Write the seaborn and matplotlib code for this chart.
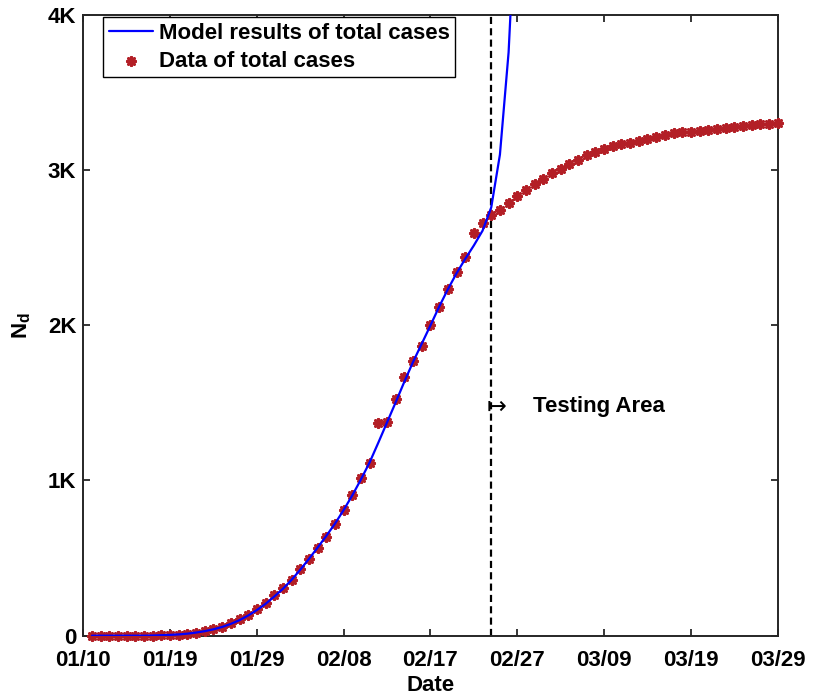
import numpy as np
import pandas as pd
import seaborn as sns
import matplotlib
matplotlib.use("Agg")
import matplotlib.pyplot as plt

# Cumulative deaths (N_d), one value per day starting at day 1
data_total = [0, 1, 1, 1, 1, 1, 1, 1, 2, 3, 6,
              9, 20, 30, 43, 58, 82, 107, 133, 172, 213, 260, 305, 360, 428,
              495, 567, 638, 722, 812, 909, 1016, 1115, 1369, 1379, 1525, 1665,
              1770, 1869, 2004, 2118, 2236, 2343, 2438, 2593, 2661, 2714, 2743,
              2786, 2833, 2869, 2911, 2941, 2980, 3009, 3041, 3067, 3095, 3117,
              3134, 3155, 3168, 3177, 3189, 3198, 3213, 3228, 3237, 3243, 3245,
              3252, 3258, 3267, 3271, 3279, 3286, 3290, 3295, 3299, 3302]
data_days = list(range(1, len(data_total) + 1))

# Model output (fitted up to the start of the testing period, then diverging)
model_total = [0, 0, 0, 0, 0, 0, 0, 1, 3, 5, 8, 13, 20, 29, 41, 56, 76, 100,
               130, 165, 205, 252, 302, 360, 425, 495, 568, 643, 722, 810, 905,
               1008, 1118, 1245, 1375, 1505, 1638, 1765, 1882, 2000, 2120, 2232,
               2335, 2428, 2515, 2610, 2760, 3100, 3760, 4900]
model_days = list(range(1, len(model_total) + 1))

testing_start = 47
tick_days = [0, 10, 20, 30, 40, 50, 60, 70, 80]
tick_labels = ["01/10", "01/19", "01/29", "02/08", "02/17", "02/27",
               "03/09", "03/19", "03/29"]
y_ticks = [0, 1000, 2000, 3000, 4000]
y_labels = ["0", "1K", "2K", "3K", "4K"]

sns.set_theme(style="white")
plt.rcParams["font.family"] = ["Liberation Sans", "DejaVu Sans"]
plt.rcParams["text.color"] = "black"
plt.rcParams["axes.labelcolor"] = "black"
plt.rcParams["xtick.color"] = "black"
plt.rcParams["ytick.color"] = "black"
plt.rcParams["mathtext.fontset"] = "custom"
plt.rcParams["mathtext.rm"] = "Liberation Sans"
plt.rcParams["mathtext.bf"] = "Liberation Sans:bold"
plt.rcParams["mathtext.it"] = "Liberation Sans:italic"

df_data = pd.DataFrame({"day": data_days, "total": data_total})
df_model = pd.DataFrame({"day": model_days, "total": model_total})

fig = plt.figure(figsize=(8.15, 6.97), dpi=100)
ax = fig.add_axes([0.1022, 0.0880, 0.8520, 0.8905])

red = (0.70, 0.12, 0.15)

ax.axvline(testing_start, color="black", lw=1.6, ls=(0, (3.2, 1.9)), zorder=1)

sns.scatterplot(data=df_data, x="day", y="total", ax=ax, marker=(8, 2, 0),
                s=36, color=red, linewidth=2.0, label="Data of total cases",
                clip_on=False, zorder=3)
sns.lineplot(data=df_model, x="day", y="total", ax=ax, color=(0, 0, 1),
             lw=1.6, label="Model results of total cases", zorder=4)

ax.set_xlim(0, 80)
ax.set_ylim(0, 4000)
ax.set_xticks(tick_days)
ax.set_xticklabels(tick_labels)
ax.set_yticks(y_ticks)
ax.set_yticklabels(y_labels)

for lab in ax.get_xticklabels() + ax.get_yticklabels():
    lab.set_fontweight("bold")
    lab.set_fontsize(16)
    lab.set_color("black")

ax.tick_params(axis="both", which="major", direction="in", length=5,
               width=1.3, color="#262626", top=True, right=True,
               bottom=True, left=True)
ax.tick_params(axis="x", pad=10)
ax.tick_params(axis="y", pad=5)

for sp in ax.spines.values():
    sp.set_visible(True)
    sp.set_color("#262626")
    sp.set_linewidth(1.4)

ax.set_xlabel("Date", fontsize=16, fontweight="bold", labelpad=3,
              color="black")
ax.set_ylabel(r"$\mathbf{N_d}$", fontsize=16, color="black")
ax.yaxis.set_label_coords(-0.073, 0.5)

# Marker for the start of the testing window
ax.text(46.5, 1474, "\u21a6", fontsize=17, family="DejaVu Sans",
        ha="left", va="center", color="black")
ax.text(51.8, 1474, "Testing Area", fontsize=16, fontweight="bold",
        ha="left", va="center", color="black")

handles, labels = ax.get_legend_handles_labels()
order = [labels.index("Model results of total cases"),
         labels.index("Data of total cases")]
leg = ax.legend([handles[i] for i in order], [labels[i] for i in order],
                loc="upper left", bbox_to_anchor=(0.0284, 0.9963),
                borderaxespad=0, fancybox=False, framealpha=1,
                edgecolor="black", handlelength=2.0, handletextpad=0.25,
                borderpad=0.25, labelspacing=0.3, numpoints=1,
                prop={"weight": "bold", "size": 16})
leg.get_frame().set_linewidth(1.0)
for t in leg.get_texts():
    t.set_color("black")

fig.savefig("out.png", dpi=100)
